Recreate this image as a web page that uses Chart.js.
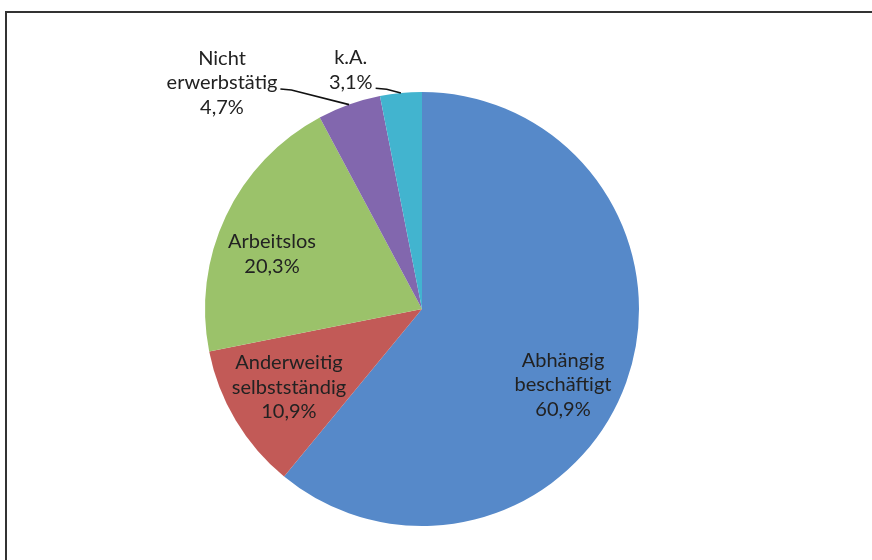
<!DOCTYPE html>
<html>
<head>
<meta charset="utf-8">
<script src="https://cdn.jsdelivr.net/npm/chart.js@4/dist/chart.umd.min.js"></script>
<style>
body { margin:0; background:#fff; }
#wrap { position:relative; width:872px; height:560px; overflow:hidden; }
#frame { position:absolute; left:5px; top:11px; width:900px; height:600px; border-top:2px solid #333; border-left:2px solid #333; }
#chart { position:absolute; left:0; top:0; }
</style>
</head>
<body>
<div id="wrap">
<div id="frame"></div>
<canvas id="chart" width="872" height="560"></canvas>
</div>
<script>
// data
var categories = ['Abhängig beschäftigt', 'Anderweitig selbstständig', 'Arbeitslos', 'Nicht erwerbstätig', 'k.A.'];
var shares = [60.9, 10.9, 20.3, 4.7, 3.1];
var colors = ['#5689C9', '#C25A57', '#9BC26A', '#8267AE', '#42B4CF'];

// label placement: angle (deg, clockwise from 3 o'clock) and distance as part of the radius
var labelAngle = [28.3, 149.6, 200.1, 228.5, 253.4];
var labelDist = [0.738, 0.711, 0.736, 1.391, 1.149];
var labelLeader = [false, false, false, true, true];

function fmt(v) {
	return v.toFixed(1).replace('.', ',') + '%';
}

var labelPlugin = {
	id: 'sliceLabels',
	afterDatasetsDraw: function(chart) {
		var ctx = chart.ctx;
		var meta = chart.getDatasetMeta(0);
		var lh = 24.5;
		ctx.save();
		ctx.font = '20px Lato';
		ctx.fillStyle = '#222';
		ctx.textAlign = 'center';
		ctx.textBaseline = 'middle';
		meta.data.forEach(function(arc, i) {
			var p = arc.getProps(['x', 'y', 'startAngle', 'endAngle', 'outerRadius'], true);
			var a = labelAngle[i] * Math.PI / 180;
			var cx = p.x + Math.cos(a) * p.outerRadius * labelDist[i];
			var cy = p.y + Math.sin(a) * p.outerRadius * labelDist[i];
			var lines = categories[i].split(' ');
			lines.push(fmt(shares[i]));
			var n = lines.length;
			var maxW = 0, maxIdx = 0;
			lines.forEach(function(t, k) {
				var w = ctx.measureText(t).width;
				if (w > maxW) { maxW = w; maxIdx = k; }
				ctx.fillText(t, cx, cy + (k - (n - 1) / 2) * lh);
			});
			if (labelLeader[i]) {
				var mid = (p.startAngle + p.endAngle) / 2;
				var ly = cy + (maxIdx - (n - 1) / 2) * lh + 6;
				var sx = cx + maxW / 2 + 3;
				ctx.beginPath();
				ctx.moveTo(sx, ly);
				ctx.lineTo(sx + 11, ly + 1);
				ctx.lineTo(p.x + Math.cos(mid) * p.outerRadius, p.y + Math.sin(mid) * p.outerRadius);
				ctx.strokeStyle = '#111';
				ctx.lineWidth = 1.6;
				ctx.stroke();
			}
		});
		ctx.restore();
	}
};

new Chart(document.getElementById('chart'), {
	type: 'pie',
	data: {
		labels: categories,
		datasets: [{
			data: shares,
			backgroundColor: colors,
			borderWidth: 0
		}]
	},
	options: {
		responsive: false,
		animation: false,
		layout: { padding: { left: 205, right: 233, top: 92, bottom: 34 } },
		plugins: {
			legend: { display: false },
			tooltip: { enabled: false }
		}
	},
	plugins: [labelPlugin]
});
</script>
</body>
</html>
